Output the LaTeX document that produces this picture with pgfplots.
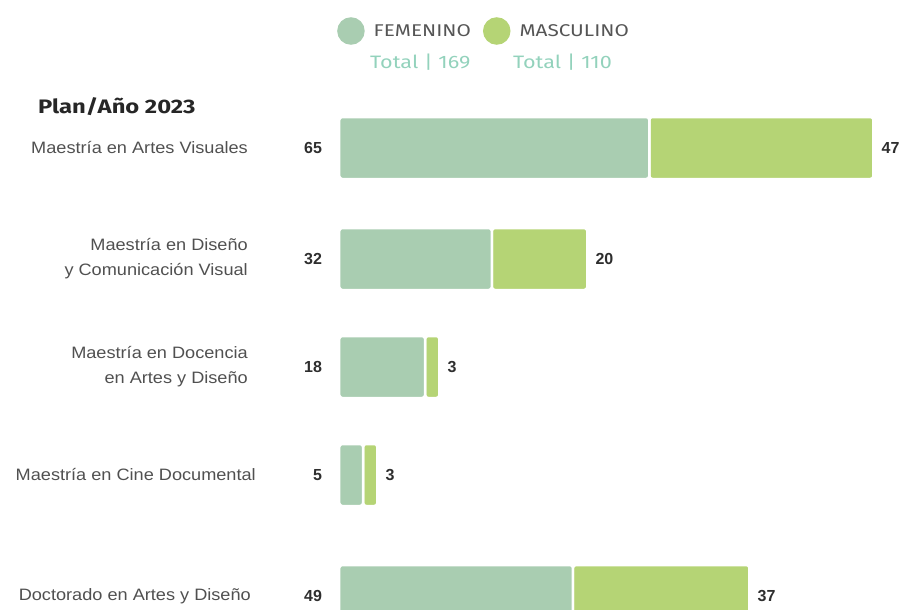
\documentclass[border=0pt]{standalone}
\usepackage{fontspec}
\setmainfont{Liberation Sans}
\newfontfamily\catfont[FakeStretch=1.1]{Liberation Sans}
\newfontfamily\valfont{Liberation Sans}
\newfontfamily\legfont[FakeStretch=1.22]{Fira Sans}
\newfontfamily\totfont[FakeStretch=1.2]{Fira Sans}
\newfontfamily\titfont[FakeStretch=1.22]{Fira Sans}
\usepackage{pgfplots}
\usepackage{pgfplotstable}
\pgfplotsset{compat=1.18}
\definecolor{femcol}{HTML}{A9CDB1}
\definecolor{mascol}{HTML}{B5D475}
\definecolor{totcol}{HTML}{93D2BC}
\definecolor{catcol}{HTML}{505050}
\definecolor{valcol}{HTML}{2E2E2E}
\definecolor{legcol}{HTML}{555555}

\pgfplotstableread{
y f m
148 65 47
259 32 20
367 18 3
475 5 3
596 49 37
}\datatable

\begin{document}
\begin{tikzpicture}
\begin{axis}[
  scale only axis, width=900pt, height=610pt,
  xmin=-71.12, xmax=117.56,
  ymin=0, ymax=610, y dir=reverse,
  xbar stacked, bar width=62pt,
  axis line style={draw=none}, major tick length=0pt,
  xtick=\empty,
  ytick={148,259,367,475,596},
  yticklabels={Maestría en Artes Visuales,
    {Maestría en Diseño\\y Comunicación Visual},
    {Maestría en Docencia\\en Artes y Diseño},
    {Maestría en Cine Documental\hspace*{-8pt}},
    {Doctorado en Artes y Diseño\hspace*{-3pt}}},
  yticklabel style={anchor=east, align=right, xshift=248pt, inner sep=0pt,
    font=\catfont\fontsize{16.5}{25}\selectfont, text=catcol},
  clip=false,
  legend columns=2,
  legend style={draw=none, fill=none, at={(axis cs:-0.47,31)}, anchor=west,
    inner sep=0pt, font=\legfont\fontsize{17}{19}\selectfont, text=legcol,
    nodes={inner sep=0pt},
    /tikz/every even column/.append style={column sep=12pt}},
  legend image code/.code={},
  point meta=explicit symbolic,
  nodes near coords,
  nodes near coords style={font=\valfont\bfseries\fontsize{16}{18}\selectfont, text=valcol, inner sep=0pt},
]
\addplot[fill=femcol, draw=white, line width=2.5pt, rounded corners=3pt,
  legend image code/.code={\fill[femcol] (12.5pt,0pt) circle (12.5pt); \path (34pt,0pt);},
  visualization depends on={rawx \as \fval},
  nodes near coords style={anchor=east, xshift=-\fval*2.385pt-16pt}]
  table[x=f, y=y, meta=f]{\datatable};
\addlegendentry{FEMENINO}
\addplot[fill=mascol, draw=white, line width=2.5pt, rounded corners=3pt,
  legend image code/.code={\fill[mascol] (12.5pt,0pt) circle (12.5pt); \path (34pt,0pt);},
  visualization depends on={rawx \as \mval},
  nodes near coords style={anchor=west, xshift=\mval*2.385pt+7pt}]
  table[x=m, y=y, meta=m]{\datatable};
\addlegendentry{MASCULINO}
\node[anchor=west, inner sep=0pt, font=\totfont\fontsize{18}{20}\selectfont, text=totcol] at (axis cs:6.45,62) {Total | 169};
\node[anchor=west, inner sep=0pt, font=\totfont\fontsize{18}{20}\selectfont, text=totcol] at (axis cs:36.4,62) {Total | 110};
\node[anchor=west, inner sep=0pt, font=\titfont\bfseries\fontsize{19.5}{22}\selectfont, text=black!85] at (axis cs:-63.16,107) {Plan/Año 2023};
\end{axis}
\pgfresetboundingbox
\useasboundingbox (current axis.south west) rectangle (current axis.north east);
\end{tikzpicture}
\end{document}
